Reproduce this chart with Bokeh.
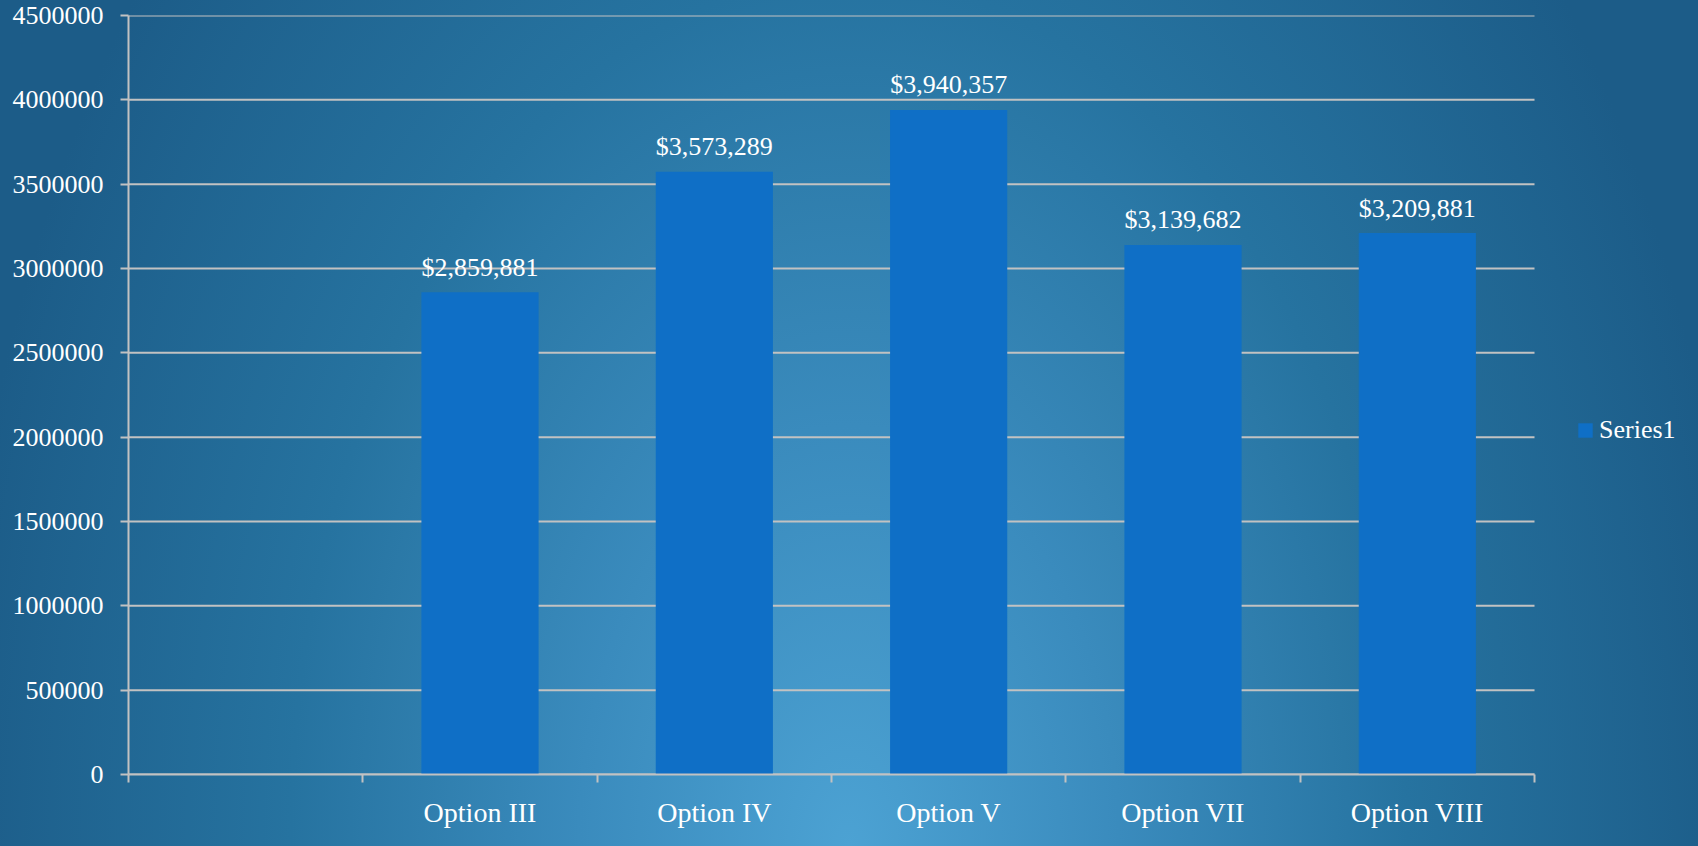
from bokeh.plotting import figure
from bokeh.models import (ColumnDataSource, Range1d, FixedTicker, NumeralTickFormatter,
                          Legend, LegendItem)
from bokeh.core.properties import value
from bokeh.embed import file_html
from bokeh.resources import INLINE

categories = ["", "Option III", "Option IV", "Option V", "Option VII", "Option VIII"]
values = [None, 2859881, 3573289, 3940357, 3139682, 3209881]
series_name = "Series1"
y_ticks = [0, 500000, 1000000, 1500000, 2000000, 2500000, 3000000, 3500000, 4000000, 4500000]

FONT = "Liberation Serif"
GRID = "#c2c2c2"
BAR = "#0f6fc6"

W, H = 1682, 830
LEFT, TOP, BOTTOM = 128, 15, 54
DATA_W = 1406          # pixel width of the category area; the rest holds the legend

n = len(categories)
centers = [i + 0.5 for i in range(n)]
bx = [c for c, v in zip(centers, values) if v is not None]
by = [v for v in values if v is not None]
src = ColumnDataSource(dict(x=bx, top=by, label=[f"${v:,}" for v in by]))

x_end = n * (W - LEFT) / DATA_W
p = figure(width=W, height=H, output_backend="svg", toolbar_location=None,
           x_range=Range1d(0, x_end), y_range=Range1d(y_ticks[0], y_ticks[-1]),
           min_border_left=LEFT, min_border_right=0, min_border_top=TOP,
           min_border_bottom=BOTTOM)
p.background_fill_color = None
p.border_fill_color = None
p.outline_line_color = None

# horizontal grid lines limited to the category area
p.segment(x0=[0] * len(y_ticks), x1=[n] * len(y_ticks), y0=y_ticks, y1=y_ticks,
          line_color=GRID, line_width=2)

r = p.vbar(x="x", top="top", width=0.5, bottom=0, source=src, fill_color=BAR, line_color=None)
p.text(x="x", y="top", text="label", source=src, text_align="center",
       text_baseline="alphabetic", y_offset=-25, text_color="white",
       text_font=value(FONT), text_font_size="26px")

# y axis
p.yaxis.ticker = FixedTicker(ticks=y_ticks)
p.yaxis.formatter = NumeralTickFormatter(format="0")
p.yaxis.axis_line_color = GRID
p.yaxis.axis_line_width = 2
p.yaxis.major_tick_line_color = GRID
p.yaxis.major_tick_line_width = 2
p.yaxis.major_tick_out = 8
p.yaxis.major_tick_in = 0
p.yaxis.minor_tick_line_color = None
p.yaxis.major_label_standoff = 17
p.yaxis.major_label_text_color = "white"
p.yaxis.major_label_text_font = FONT
p.yaxis.major_label_text_font_size = "26px"

# x axis: labels at category centres, ticks at category boundaries
p.xaxis.bounds = (0, n)
p.xaxis.ticker = FixedTicker(ticks=centers, minor_ticks=list(range(n + 1)))
p.xaxis.major_label_overrides = {c: lab for c, lab in zip(centers, categories)}
p.xaxis.axis_line_color = GRID
p.xaxis.axis_line_width = 2
p.xaxis.major_tick_line_color = None
p.xaxis.major_tick_out = 0
p.xaxis.major_tick_in = 0
p.xaxis.minor_tick_line_color = GRID
p.xaxis.minor_tick_line_width = 2
p.xaxis.minor_tick_out = 8
p.xaxis.minor_tick_in = 0
p.xaxis.major_label_standoff = 14
p.xaxis.major_label_text_color = "white"
p.xaxis.major_label_text_font = FONT
p.xaxis.major_label_text_font_size = "28px"

p.xgrid.grid_line_color = None
p.ygrid.grid_line_color = None

legend = Legend(items=[LegendItem(label=series_name, renderers=[r])],
                location=(DATA_W + 42, 329), orientation="vertical")
legend.background_fill_alpha = 0
legend.border_line_color = None
legend.margin = 0
legend.padding = 0
legend.glyph_width = 18
legend.glyph_height = 18
legend.label_standoff = 5
legend.label_text_color = "white"
legend.label_text_font = FONT
legend.label_text_font_size = "26px"
p.add_layout(legend, "center")

html = file_html(p, INLINE)
style = ("<style>html{min-height:100%;background:"
         "radial-gradient(ellipse 900px 1400px at 849px 846px,"
         "#4ca2d3 0%,#3a8bbd 30%,#2673a0 62%,#1c5c88 100%) no-repeat,#1b5a86;}"
         "body{background:transparent;}</style>")
html = html.replace("</head>", style + "</head>", 1)
open("out.html", "w").write(html)
